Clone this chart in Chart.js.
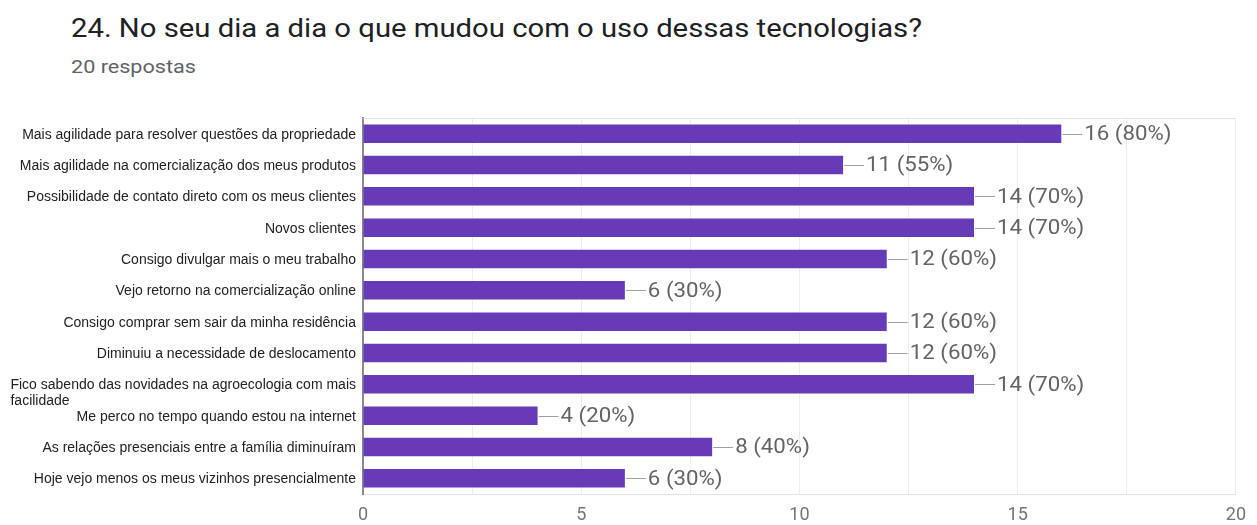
<!DOCTYPE html>
<html>
<head>
<meta charset="utf-8">
<script src="https://cdn.jsdelivr.net/npm/chart.js@4.4.1/dist/chart.umd.min.js"></script>
<style>
  html, body { margin: 0; padding: 0; background: #fff; }
  #wrap { position: relative; width: 1257px; height: 525px; overflow: hidden; }
  #title { position: absolute; left: 71px; top: 16px; font: 25px Roboto, sans-serif; line-height: 25px; color: #202124; white-space: nowrap; transform-origin: left top; transform: scaleX(1.17); }
  #subtitle { position: absolute; left: 71px; top: 58px; font: 18px Roboto, sans-serif; line-height: 18px; color: #5f6368; white-space: nowrap; transform-origin: left top; transform: scaleX(1.2); }
  canvas { position: absolute; left: 0; top: 0; }
</style>
</head>
<body>
<div id="wrap">
  <div id="title">24. No seu dia a dia o que mudou com o uso dessas tecnologias?</div>
  <div id="subtitle">20 respostas</div>
  <canvas id="chart" width="1257" height="525"></canvas>
</div>
<script>
const categories = [
    'Mais agilidade para resolver questões da propriedade',
    'Mais agilidade na comercialização dos meus produtos',
    'Possibilidade de contato direto com os meus clientes',
    'Novos clientes',
    'Consigo divulgar mais o meu trabalho',
    'Vejo retorno na comercialização online',
    'Consigo comprar sem sair da minha residência',
    'Diminuiu a necessidade de deslocamento',
    'Fico sabendo das novidades na agroecologia com mais facilidade',
    'Me perco no tempo quando estou na internet',
    'As relações presenciais entre a família diminuíram',
    'Hoje vejo menos os meus vizinhos presencialmente'
];
const counts = [16, 11, 14, 14, 12, 6, 12, 12, 14, 4, 8, 6];
const totalResponses = 20;
const xTicks = [0, 5, 10, 15, 20];

const labelFont = '14px "Liberation Sans", Arial, sans-serif';
const valueFont = '21px Roboto, sans-serif';

// y labels drawn by hand so a long label wraps like the Forms chart does
const categoryLabels = {
    id: 'categoryLabels',
    afterDraw(chart) {
        const { ctx, chartArea } = chart;
        const y = chart.scales.y;
        const right = chartArea.left - 7;
        const maxW = 350;
        ctx.save();
        ctx.font = labelFont;
        ctx.fillStyle = '#222';
        ctx.textBaseline = 'middle';
        categories.forEach((label, i) => {
            const words = label.split(' ');
            const lines = [];
            let cur = '';
            words.forEach(w => {
                const test = cur ? cur + ' ' + w : w;
                if (cur && ctx.measureText(test).width > maxW) {
                    lines.push(cur);
                    cur = w;
                } else {
                    cur = test;
                }
            });
            lines.push(cur);
            const py = y.getPixelForValue(i) + 1;
            ctx.textAlign = 'right';
            ctx.fillText(lines[0], right, py);
            const left = right - ctx.measureText(lines[0]).width;
            ctx.textAlign = 'left';
            for (let k = 1; k < lines.length; k++) {
                ctx.fillText(lines[k], left, py + k * 16);
            }
        });
        ctx.restore();
    }
};

// "—16 (80%)" labels at the end of each bar + top frame line
const valueLabels = {
    id: 'valueLabels',
    afterDatasetsDraw(chart) {
        const { ctx, chartArea } = chart;
        ctx.save();
        ctx.strokeStyle = '#e3e3e3';
        ctx.lineWidth = 1;
        ctx.beginPath();
        ctx.moveTo(chartArea.left, chartArea.top + 0.5);
        ctx.lineTo(chartArea.right, chartArea.top + 0.5);
        ctx.stroke();

        const meta = chart.getDatasetMeta(0);
        ctx.font = valueFont;
        ctx.fillStyle = '#646464';
        ctx.strokeStyle = '#a0a0a0';
        ctx.textAlign = 'left';
        ctx.textBaseline = 'middle';
        meta.data.forEach((bar, i) => {
            const v = counts[i];
            const pct = Math.round(v / totalResponses * 100);
            ctx.beginPath();
            ctx.moveTo(bar.x + 1, Math.round(bar.y) + 0.5);
            ctx.lineTo(bar.x + 21, Math.round(bar.y) + 0.5);
            ctx.stroke();
            ctx.save();
            ctx.translate(bar.x + 23, bar.y + 1);
            ctx.scale(1.06, 1);
            ctx.fillText(v + ' (' + pct + '%)', 0, 0);
            ctx.restore();
        });
        ctx.restore();
    }
};

new Chart(document.getElementById('chart'), {
    type: 'bar',
    data: {
        labels: categories,
        datasets: [{
            label: 'Respostas',
            data: counts,
            backgroundColor: '#673ab7',
            barPercentage: 0.59,
            categoryPercentage: 1.0
        }]
    },
    options: {
        indexAxis: 'y',
        responsive: false,
        animation: false,
        layout: { padding: { top: 118, right: 14, left: 0, bottom: 0 } },
        scales: {
            x: {
                min: 0,
                max: 20,
                afterFit: s => { s.height = 31; },
                ticks: {
                    stepSize: 2.5,
                    autoSkip: false,
                    padding: 11,
                    color: '#757575',
                    font: { family: 'Roboto', size: 18 },
                    callback: v => xTicks.includes(v) ? v : ''
                },
                grid: { color: '#ededed', drawTicks: false },
                border: { color: '#e3e3e3' }
            },
            y: {
                afterFit: s => { s.width = 363; },
                ticks: { display: false },
                grid: { display: false },
                border: { color: '#8a8a8a', width: 2 }
            }
        },
        plugins: {
            legend: { display: false },
            tooltip: { enabled: false }
        }
    },
    plugins: [categoryLabels, valueLabels]
});
</script>
</body>
</html>
